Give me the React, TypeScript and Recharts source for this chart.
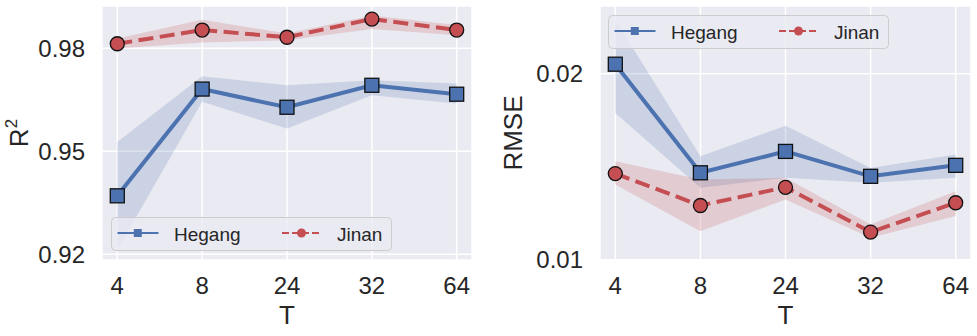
import { ComposedChart, Line, Area, XAxis, YAxis, CartesianGrid, Legend } from 'recharts';

const categories = ['4', '8', '24', '32', '64'];

// R^2 panel
const r2Hegang = [0.937, 0.9681, 0.9628, 0.9692, 0.9666];
const r2HegangLow = [0.9212, 0.9644, 0.9566, 0.9663, 0.9639];
const r2HegangHigh = [0.9527, 0.9718, 0.9692, 0.9707, 0.9697];
const r2Jinan = [0.9813, 0.9853, 0.9832, 0.9885, 0.9853];
const r2JinanLow = [0.9799, 0.9817, 0.9823, 0.9856, 0.9838];
const r2JinanHigh = [0.9828, 0.9883, 0.9843, 0.9895, 0.9868];

// RMSE panel
const rmseHegang = [0.02052, 0.01468, 0.01583, 0.01449, 0.01508];
const rmseHegangLow = [0.01789, 0.01387, 0.01441, 0.01414, 0.01441];
const rmseHegangHigh = [0.0229, 0.01557, 0.01721, 0.01494, 0.01566];
const rmseJinan = [0.01464, 0.01292, 0.0139, 0.01149, 0.01307];
const rmseJinanLow = [0.01405, 0.01154, 0.01324, 0.01119, 0.01235];
const rmseJinanHigh = [0.0153, 0.01432, 0.01441, 0.0119, 0.01369];

const r2Ticks = [0.92, 0.95, 0.98];
const rmseTicks = [0.01, 0.02];

const BLUE = '#4C72B0';
const RED = '#C44E52';
const TEXT = '#262626';
const FONT = '"Liberation Sans", Arial, sans-serif';

const buildRows = (hm, hl, hh, jm, jl, jh) =>
  categories.map((c, i) => ({
    t: c,
    hegang: hm[i],
    hegangBand: [hl[i], hh[i]],
    jinan: jm[i],
    jinanBand: [jl[i], jh[i]],
  }));

const r2Data = buildRows(r2Hegang, r2HegangLow, r2HegangHigh, r2Jinan, r2JinanLow, r2JinanHigh);
const rmseData = buildRows(rmseHegang, rmseHegangLow, rmseHegangHigh, rmseJinan, rmseJinanLow, rmseJinanHigh);

const XTick = ({ x, y, payload }) => (
  <text x={x} y={y + 25} textAnchor="middle" dominantBaseline="central" fontSize={24} fill={TEXT} fontFamily={FONT}>
    {payload.value}
  </text>
);

const YTick = ({ x, y, payload }) => (
  <text x={x - 17} y={y} textAnchor="end" dominantBaseline="central" fontSize={24} fill={TEXT} fontFamily={FONT}>
    {payload.value}
  </text>
);

const SquareDot = ({ cx, cy }) => (
  <rect x={cx - 7} y={cy - 7} width={14} height={14} fill={BLUE} stroke="#111" strokeWidth={1.3} />
);

const CircleDot = ({ cx, cy }) => <circle cx={cx} cy={cy} r={7} fill={RED} stroke="#111" strokeWidth={1.3} />;

const LegendBox = () => (
  <svg width={281} height={34} style={{ display: 'block' }}>
    <rect x={0.5} y={0.5} width={280} height={33} rx={4} fill="rgba(234,234,242,0.8)" stroke="#CCCCCC" />
    <line x1={6.5} y1={16} x2={47.5} y2={16} stroke={BLUE} strokeWidth={1.8} />
    <rect x={22.8} y={12} width={8} height={8} fill={BLUE} />
    <text x={63} y={17} dominantBaseline="central" fontSize={19} fill={TEXT} fontFamily={FONT}>Hegang</text>
    <line x1={171} y1={16} x2={210} y2={16} stroke={RED} strokeWidth={1.8} strokeDasharray="7 3" />
    <circle cx={190.5} cy={16} r={4.5} fill={RED} />
    <text x={226} y={17} dominantBaseline="central" fontSize={19} fill={TEXT} fontFamily={FONT}>Jinan</text>
  </svg>
);

function Panel({ data, domain, ticks, label, width, plotLeft, plotRight, legendLeft, legendTop, isR2 }) {
  const pad = 15.3;
  return (
    <ComposedChart
      width={width}
      height={336}
      data={data}
      margin={{ top: 6, right: plotRight, bottom: 36, left: 0 }}
      style={{ fontFamily: FONT }}
    >
      <CartesianGrid fill="#EAEAF2" stroke="#FFFFFF" strokeWidth={1.5} />
      <XAxis
        dataKey="t"
        scale="point"
        padding={{ left: pad, right: pad }}
        axisLine={false}
        tickLine={false}
        tickSize={0}
        tickMargin={0}
        height={40}
        tick={XTick}
        interval={0}
        label={({ viewBox }) => (
          <text
            x={viewBox.x + viewBox.width / 2}
            y={viewBox.y + 55}
            textAnchor="middle"
            dominantBaseline="central"
            fontSize={26}
            fill={TEXT}
            fontFamily={FONT}
          >
            T
          </text>
        )}
      />
      <YAxis
        type="number"
        domain={domain}
        ticks={ticks}
        allowDataOverflow
        axisLine={false}
        tickLine={false}
        tickSize={0}
        tickMargin={0}
        width={plotLeft}
        tick={YTick}
        label={({ viewBox }) => {
          const cy = viewBox.y + viewBox.height / 2;
          const cx = isR2 ? 19 : 23;
          return (
            <text
              x={cx}
              y={cy}
              transform={`rotate(-90, ${cx}, ${cy})`}
              textAnchor="middle"
              dominantBaseline="central"
              fontSize={26}
              fill={TEXT}
              fontFamily={FONT}
            >
              {isR2 ? (
                <>
                  R<tspan fontSize={17} dy={-8}>2</tspan>
                </>
              ) : (
                label
              )}
            </text>
          );
        }}
      />
      <Area dataKey="hegangBand" fill={BLUE} fillOpacity={0.2} stroke="none" isAnimationActive={false} legendType="none" />
      <Line
        dataKey="hegang"
        stroke={BLUE}
        strokeWidth={4}
        dot={SquareDot}
        activeDot={false}
        isAnimationActive={false}
      />
      <Area dataKey="jinanBand" fill={RED} fillOpacity={0.2} stroke="none" isAnimationActive={false} legendType="none" />
      <Line
        dataKey="jinan"
        stroke={RED}
        strokeWidth={4}
        strokeDasharray="15 6.5"
        dot={CircleDot}
        activeDot={false}
        isAnimationActive={false}
      />
      <Legend
        layout="horizontal"
        verticalAlign="middle"
        align="center"
        content={LegendBox}
        wrapperStyle={{ left: legendLeft, top: legendTop, width: 281, height: 34 }}
      />
    </ComposedChart>
  );
}

export default function App() {
  return (
    <div style={{ position: 'absolute', left: 0, top: 0, width: 977, height: 336, background: '#fff', display: 'flex' }}>
      <Panel
        data={r2Data}
        domain={[0.9183, 0.9923]}
        ticks={r2Ticks}
        label="R2"
        width={490}
        plotLeft={102}
        plotRight={18}
        legendLeft={110.5}
        legendTop={217}
        isR2
      />
      <Panel
        data={rmseData}
        domain={[0.00999, 0.02365]}
        ticks={rmseTicks}
        label="RMSE"
        width={487}
        plotLeft={110}
        plotRight={6}
        legendLeft={118}
        legendTop={15}
        isR2={false}
      />
    </div>
  );
}
